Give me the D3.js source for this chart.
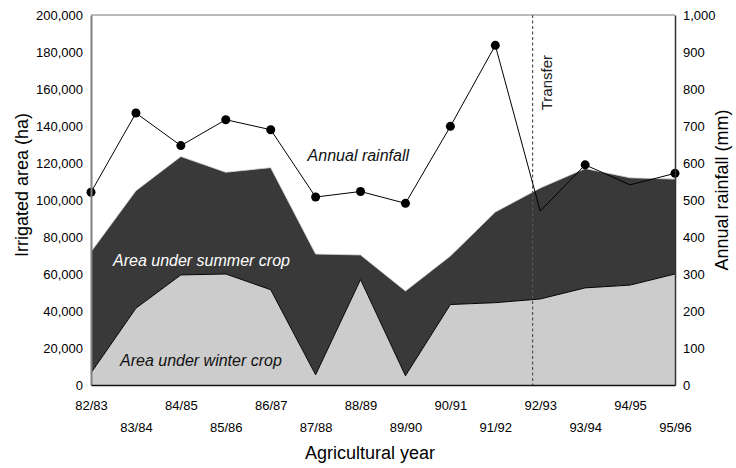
<!DOCTYPE html>
<html>
<head>
<meta charset="utf-8">
<script src="https://cdn.jsdelivr.net/npm/d3@7/dist/d3.min.js"></script>
<style>
  body { margin: 0; background: #fff; }
  svg { display: block; font-family: "Liberation Sans", Arial, sans-serif; }
</style>
</head>
<body>
<svg id="chart" width="736" height="468"></svg>
<script>
// agricultural years
var years = ['82/83', '83/84', '84/85', '85/86', '86/87', '87/88', '88/89',
	'89/90', '90/91', '91/92', '92/93', '93/94', '94/95', '95/96'];

// irrigated area (ha)
var winterArea = [6500, 41500, 59500, 60000, 51500, 5500, 57000,
	5000, 43500, 44500, 46500, 52500, 54000, 60000];
var summerArea = [65500, 63500, 64000, 55000, 66000, 65300, 13300,
	45800, 26200, 49000, 60000, 64500, 58000, 51300];

// annual rainfall (mm)
var rainfall = [521, 735, 647, 717, 690, 508, 523, 491, 699, 918, 470, 595, 541, 572];
var rainMarker = [1, 1, 1, 1, 1, 1, 1, 1, 1, 1, 0, 1, 0, 1];

// ticks
var areaTicks = [0, 20000, 40000, 60000, 80000, 100000, 120000, 140000, 160000, 180000, 200000];
var rainTicks = [0, 100, 200, 300, 400, 500, 600, 700, 800, 900, 1000];

// transfer happened late in 91/92 (fractional index)
var transferAt = 9.83;

var margin = {top: 15, right: 61, bottom: 83, left: 91},
	w = 736 - margin.left - margin.right,
	h = 468 - margin.top - margin.bottom;

var svg = d3.select('#chart');
var g = svg.append('g').attr('transform', 'translate(' + margin.left + ',' + margin.top + ')');

var x = d3.scalePoint().domain(years).range([0, w]);
var yArea = d3.scaleLinear().domain([0, 200000]).range([h, 0]);
var yRain = d3.scaleLinear().domain([0, 1000]).range([h, 0]);

var rows = years.map(function(y, i) {
	return {year: y, winter: winterArea[i], summer: summerArea[i]};
});
var stack = d3.stack().keys(['winter', 'summer'])(rows);

var area = d3.area()
	.x(function(d) { return x(d.data.year); })
	.y0(function(d) { return yArea(d[0]); })
	.y1(function(d) { return yArea(d[1]); });

var topLine = d3.line()
	.x(function(d) { return x(d.data.year); })
	.y(function(d) { return yArea(d[1]); });

// summer (on top) then winter
g.append('path').datum(stack[1]).attr('d', area).attr('fill', '#393939');
g.append('path').datum(stack[0]).attr('d', area).attr('fill', '#cccccc');
g.append('path').datum(stack[1]).attr('d', topLine)
	.attr('fill', 'none').attr('stroke', '#d8d8d8').attr('stroke-width', 0.8);
g.append('path').datum(stack[0]).attr('d', topLine)
	.attr('fill', 'none').attr('stroke', '#000').attr('stroke-width', 1);

// transfer line
var step = x.step();
var tx = transferAt * step;
g.append('line')
	.attr('x1', tx).attr('x2', tx).attr('y1', 0).attr('y2', h)
	.attr('stroke', '#555').attr('stroke-width', 1.2).attr('stroke-dasharray', '3,2.5');
g.append('text')
	.attr('transform', 'translate(' + (tx + 19) + ',40) rotate(-90)')
	.attr('text-anchor', 'end')
	.attr('font-size', 15)
	.attr('fill', '#222')
	.text('Transfer');

// rainfall line
var rainLine = d3.line()
	.x(function(d, i) { return x(years[i]); })
	.y(function(d) { return yRain(d); });
g.append('path').datum(rainfall).attr('d', rainLine)
	.attr('fill', 'none').attr('stroke', '#000').attr('stroke-width', 1);
g.selectAll('circle.rain')
	.data(rainfall.map(function(v, i) { return {v: v, i: i}; }).filter(function(d) { return rainMarker[d.i]; }))
	.enter().append('circle')
	.attr('class', 'rain')
	.attr('cx', function(d) { return x(years[d.i]); })
	.attr('cy', function(d) { return yRain(d.v); })
	.attr('r', 4.5)
	.attr('fill', '#000');

// frame
g.append('line').attr('x1', 0).attr('x2', w).attr('y1', 0).attr('y2', 0)
	.attr('stroke', '#777').attr('stroke-width', 1);

// left axis
var axL = g.append('g')
	.call(d3.axisLeft(yArea).tickValues(areaTicks).tickFormat(d3.format(',')).tickSize(0).tickPadding(8));
axL.select('.domain').attr('stroke', '#808080').attr('stroke-width', 2);

// right axis
var axR = g.append('g').attr('transform', 'translate(' + w + ',0)')
	.call(d3.axisRight(yRain).tickValues(rainTicks).tickFormat(d3.format(',')).tickSize(0).tickPadding(8));
axR.select('.domain').attr('stroke', '#333').attr('stroke-width', 1.5);

// bottom axis
var axB = g.append('g').attr('transform', 'translate(0,' + h + ')')
	.call(d3.axisBottom(x).tickSize(0).tickPadding(0));
axB.select('.domain').attr('stroke', '#111').attr('stroke-width', 1.5);
axB.selectAll('.tick text')
	.attr('y', function(d, i) { return i % 2 ? 47 : 25; })
	.attr('dy', 0);

svg.selectAll('.tick text').attr('font-size', 13).attr('font-family', '"Liberation Sans", Arial, sans-serif').attr('fill', '#000');

// annotations
g.append('text').attr('x', x('87/88') - 8).attr('y', 146)
	.attr('font-size', 16).attr('font-style', 'italic').attr('fill', '#111')
	.text('Annual rainfall');
g.append('text').attr('x', 22).attr('y', 251)
	.attr('font-size', 16).attr('font-style', 'italic').attr('fill', '#fff')
	.text('Area under summer crop');
g.append('text').attr('x', 29).attr('y', 351)
	.attr('font-size', 16).attr('font-style', 'italic').attr('fill', '#111')
	.text('Area under winter crop');

// axis titles
svg.append('text')
	.attr('transform', 'translate(28,185) rotate(-90)')
	.attr('text-anchor', 'middle').attr('font-size', 18)
	.text('Irrigated area (ha)');
svg.append('text')
	.attr('transform', 'translate(728,190) rotate(-90)')
	.attr('text-anchor', 'middle').attr('font-size', 18)
	.text('Annual rainfall (mm)');
svg.append('text')
	.attr('x', 370).attr('y', 459)
	.attr('text-anchor', 'middle').attr('font-size', 18)
	.text('Agricultural year');
</script>
</body>
</html>
